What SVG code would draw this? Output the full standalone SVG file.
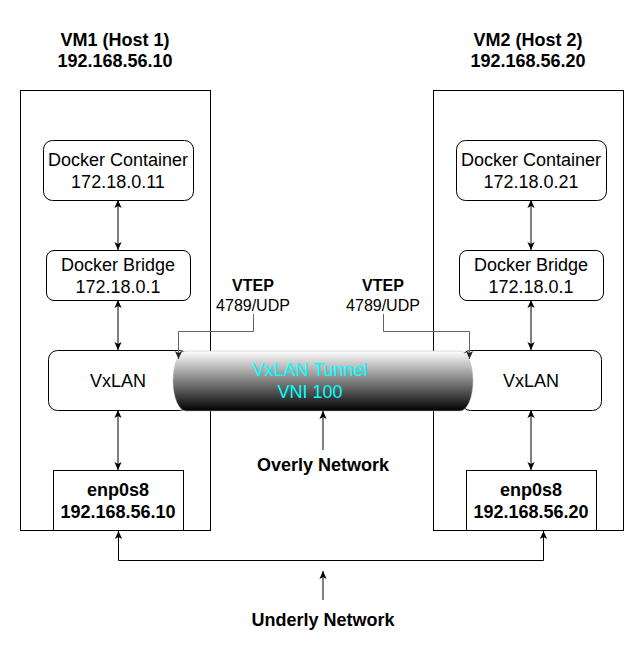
<svg xmlns="http://www.w3.org/2000/svg" width="644" height="660" viewBox="0 0 644 660">
<style>
text{font-family:"Liberation Sans",Arial,sans-serif;font-size:18px;fill:#000;text-anchor:middle}
.b{font-weight:bold}
.s{font-size:16px}
.cy{fill:#00ffff}
.box{fill:#fff;stroke:#000;stroke-width:1}
.host{fill:none;stroke:#000;stroke-width:1}
.ln{fill:none;stroke:#000;stroke-width:1}
.gl{fill:none;stroke:#666;stroke-width:1}
</style>
<defs>
<marker id="ar" viewBox="0 0 10 10" refX="10" refY="5" markerUnits="userSpaceOnUse" markerWidth="8" markerHeight="8" orient="auto-start-reverse">
<path d="M0,0.5 L10,5 L0,9.5 L2.5,5 Z" fill="#000"/>
</marker>
<marker id="ag" viewBox="0 0 10 10" refX="10" refY="5" markerUnits="userSpaceOnUse" markerWidth="8" markerHeight="8" orient="auto">
<path d="M0,0.5 L10,5 L0,9.5 L2.5,5 Z" fill="#222"/>
</marker>
<linearGradient id="tg" x1="0" y1="0" x2="0" y2="1">
<stop offset="0" stop-color="#ffffff"/>
<stop offset="1" stop-color="#000000"/>
</linearGradient>
</defs>

<g id="host1">
<rect class="host" x="20.5" y="90.5" width="190" height="440"/>
<text class="b" x="115" y="46">VM1 (Host 1)</text>
<text class="b" x="115" y="67">192.168.56.10</text>
</g>
<g id="host2">
<rect class="host" x="433.5" y="90.5" width="190" height="440"/>
<text class="b" x="528" y="46">VM2 (Host 2)</text>
<text class="b" x="528" y="67">192.168.56.20</text>
</g>

<g id="container1">
<rect class="box" x="43.5" y="140.5" width="150" height="60" rx="9"/>
<text x="118" y="165.5">Docker Container</text>
<text x="118" y="187.5">172.18.0.11</text>
</g>
<g id="bridge1">
<rect class="box" x="46.5" y="250.5" width="144" height="50" rx="7.5"/>
<text x="118" y="270.5">Docker Bridge</text>
<text x="118" y="292.5">172.18.0.1</text>
</g>
<g id="vxlan1">
<rect class="box" x="48.5" y="350.5" width="140" height="60" rx="9"/>
<text x="118" y="386.5">VxLAN</text>
</g>
<g id="enp1">
<rect class="box" x="53.5" y="470.5" width="130" height="60"/>
<text class="b" x="118" y="495.5">enp0s8</text>
<text class="b" x="118" y="517.5">192.168.56.10</text>
</g>

<g id="container2">
<rect class="box" x="456.5" y="140.5" width="150" height="60" rx="9"/>
<text x="531" y="165.5">Docker Container</text>
<text x="531" y="187.5">172.18.0.21</text>
</g>
<g id="bridge2">
<rect class="box" x="459.5" y="250.5" width="144" height="50" rx="7.5"/>
<text x="531" y="270.5">Docker Bridge</text>
<text x="531" y="292.5">172.18.0.1</text>
</g>
<g id="vxlan2">
<rect class="box" x="461.5" y="350.5" width="140" height="60" rx="9"/>
<text x="531" y="386.5">VxLAN</text>
</g>
<g id="enp2">
<rect class="box" x="466.5" y="470.5" width="130" height="60"/>
<text class="b" x="531" y="495.5">enp0s8</text>
<text class="b" x="531" y="517.5">192.168.56.20</text>
</g>

<g id="tunnel">
<path d="M186,351 L460,351 A13,30 0 0 1 460,411 L186,411 A13,30 0 0 1 186,351 Z" fill="url(#tg)" stroke="#bbb" stroke-width="0.5"/>
<text class="cy" x="310" y="376">VxLAN Tunnel</text>
<text class="cy" x="310" y="398">VNI 100</text>
</g>

<g id="labels">
<text class="b s" x="253" y="291">VTEP</text>
<text class="s" x="253" y="311">4789/UDP</text>
<text class="b s" x="383" y="291">VTEP</text>
<text class="s" x="383" y="311">4789/UDP</text>
<text class="b" x="323" y="471">Overly Network</text>
<text class="b" x="323" y="626">Underly Network</text>
</g>

<g id="connectors">
<line class="ln" x1="118" y1="200" x2="118" y2="250" marker-start="url(#ar)" marker-end="url(#ar)"/>
<line class="ln" x1="118" y1="300" x2="118" y2="350" marker-start="url(#ar)" marker-end="url(#ar)"/>
<line class="ln" x1="118" y1="410" x2="118" y2="470" marker-start="url(#ar)" marker-end="url(#ar)"/>
<line class="ln" x1="531" y1="200" x2="531" y2="250" marker-start="url(#ar)" marker-end="url(#ar)"/>
<line class="ln" x1="531" y1="300" x2="531" y2="350" marker-start="url(#ar)" marker-end="url(#ar)"/>
<line class="ln" x1="531" y1="410" x2="531" y2="470" marker-start="url(#ar)" marker-end="url(#ar)"/>
<polyline class="gl" points="253.5,314 253.5,331.5 178.5,331.5 178.5,359" marker-end="url(#ag)"/>
<polyline class="gl" points="383.5,314 383.5,331.5 469.5,331.5 469.5,359" marker-end="url(#ag)"/>
<polyline class="ln" points="118.5,531 118.5,560.5 543.5,560.5 543.5,531" marker-start="url(#ar)" marker-end="url(#ar)"/>
<line class="ln" x1="323" y1="450" x2="323" y2="411" marker-end="url(#ar)"/>
<line class="ln" x1="323" y1="600" x2="323" y2="571" marker-end="url(#ar)"/>
</g>
</svg>
